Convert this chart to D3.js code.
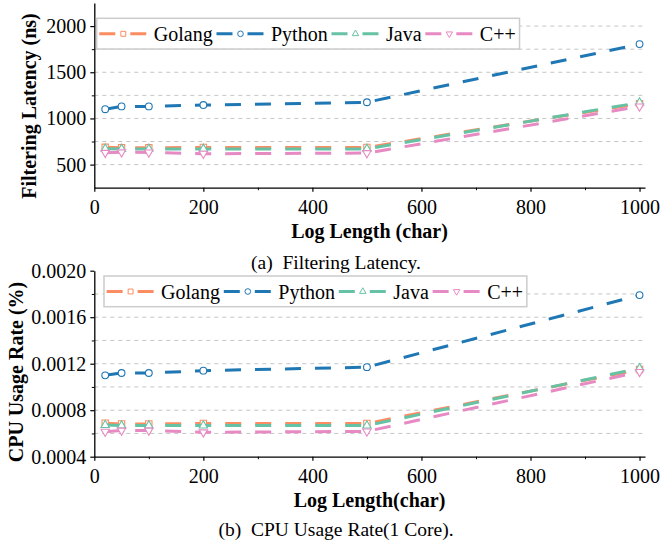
<!DOCTYPE html>
<html>
<head>
<meta charset="utf-8">
<script src="https://cdn.jsdelivr.net/npm/d3@7"></script>
<style>
body { margin: 0; background: #fff; }
text { font-family: "Liberation Serif", "Times New Roman", serif; }
</style>
</head>
<body>
<svg id="chart" width="660" height="546"></svg>
<script>
// log lengths (char) on the x axis
let lengths = [20, 50, 100, 200, 500, 1000];
let languages = ["Golang", "Python", "Java", "C++"];
let colors = ["#fc8d62", "#1f77b4", "#66c2a5", "#e78ac3"];

// (a) filtering latency, ns
let latGolang = [688, 682, 682, 686, 686, 1160];
let latPython = [1100, 1130, 1130, 1145, 1175, 1805];
let latJava = [672, 670, 670, 670, 670, 1172];
let latCpp = [628, 634, 632, 618, 625, 1130];

// (b) cpu usage rate, %
let cpuGolang = [0.000688, 0.000682, 0.000682, 0.000686, 0.000686, 0.00115];
let cpuPython = [0.0011, 0.00112, 0.00112, 0.00114, 0.00117, 0.00179];
let cpuJava = [0.000672, 0.000668, 0.000668, 0.000668, 0.000668, 0.00116];
let cpuCpp = [0.000615, 0.000625, 0.000625, 0.00061, 0.000618, 0.00113];

// tick labels
let xMajor = [0, 200, 400, 600, 800, 1000];
let xMinor = [100, 300, 500, 700, 900];
let latMajor = [500, 1000, 1500, 2000];
let latMinor = [750, 1250, 1750];
let cpuMajor = [0.0004, 0.0008, 0.0012, 0.0016, 0.0020];
let cpuMinor = [0.0006, 0.0010, 0.0014, 0.0018];

const svg = d3.select("#chart");
svg.append("rect").attr("width", 660).attr("height", 546).attr("fill", "#fff");

const shapes = [
    {type: d3.symbolSquare, size: 40, small: 24, rot: 0},
    {type: d3.symbolCircle, size: 36, small: 25, rot: 0},
    {type: d3.symbolTriangle, size: 30, small: 18, rot: 0},
    {type: d3.symbolTriangle, size: 30, small: 18, rot: 180}
];

function panel(cfg) {
    const x = d3.scaleLinear().domain([0, 1010]).range([94.3, 645]);
    const y = d3.scaleLinear().domain(cfg.yDomain).range(cfg.yRange);
    const g = svg.append("g");

    // grid
    g.append("g").selectAll("line")
        .data(cfg.grid)
        .join("line")
        .attr("x1", x.range()[0]).attr("x2", x.range()[1])
        .attr("y1", d => y(d)).attr("y2", d => y(d))
        .attr("stroke", "#c4c4c4")
        .attr("stroke-width", 1)
        .attr("stroke-dasharray", "4,4");

    // minor ticks
    g.append("g")
        .attr("transform", "translate(0," + cfg.yRange[0] + ")")
        .call(d3.axisBottom(x).tickValues(xMinor).tickSize(2.5).tickFormat("").tickSizeOuter(0))
        .call(a => a.select(".domain").remove());
    g.append("g")
        .attr("transform", "translate(" + x.range()[0] + ",0)")
        .call(d3.axisLeft(y).tickValues(cfg.minor).tickSize(2.5).tickFormat("").tickSizeOuter(0))
        .call(a => a.select(".domain").remove());

    // major axes
    const xa = g.append("g")
        .attr("transform", "translate(0," + cfg.yRange[0] + ")")
        .call(d3.axisBottom(x).tickValues(xMajor).tickSize(4).tickPadding(8)
            .tickFormat(d3.format("d")).tickSizeOuter(0));
    const ya = g.append("g")
        .attr("transform", "translate(" + x.range()[0] + ",0)")
        .call(d3.axisLeft(y).tickValues(cfg.major).tickSize(4).tickPadding(4)
            .tickFormat(cfg.fmt).tickSizeOuter(0));
    [xa, ya].forEach(a => {
        a.attr("font-family", null).attr("font-size", null);
        a.selectAll("text").attr("font-size", 20).attr("fill", "#000");
        a.selectAll("line").attr("stroke-width", 1.2);
        a.select(".domain").attr("stroke-width", 1.3);
    });

    // series
    cfg.series.forEach(function (vals, i) {
        const pts = lengths.map((l, j) => [l, vals[j]]);
        const sg = g.append("g");
        sg.append("path")
            .datum(pts)
            .attr("d", d3.line().x(d => x(d[0])).y(d => y(d[1])))
            .attr("fill", "none")
            .attr("stroke", colors[i])
            .attr("stroke-width", 3)
            .attr("stroke-dasharray", "16,14");
        sg.selectAll("path.m")
            .data(pts)
            .join("path")
            .attr("class", "m")
            .attr("d", d3.symbol().type(shapes[i].type).size(shapes[i].size))
            .attr("transform", d => "translate(" + x(d[0]) + "," + y(d[1]) + ") rotate(" + shapes[i].rot + ")")
            .attr("fill", "#fff")
            .attr("stroke", colors[i])
            .attr("stroke-width", 1.1);
    });

    // legend
    const lg = g.append("g");
    const box = lg.append("rect")
        .attr("x", cfg.lx).attr("y", cfg.ly)
        .attr("height", 30.7)
        .attr("fill", "#fff")
        .attr("stroke", "#cccccc")
        .attr("stroke-width", 1.5);
    const cy = cfg.ly + 15.5;
    let cx = cfg.lx + 2.6;
    languages.forEach(function (name, i) {
        lg.append("line")
            .attr("x1", cx).attr("x2", cx + 48)
            .attr("y1", cy).attr("y2", cy)
            .attr("stroke", colors[i])
            .attr("stroke-width", 3)
            .attr("stroke-dasharray", "16,15");
        lg.append("path")
            .attr("d", d3.symbol().type(shapes[i].type).size(shapes[i].small))
            .attr("transform", "translate(" + (cx + 24) + "," + cy + ") rotate(" + shapes[i].rot + ")")
            .attr("fill", "#fff")
            .attr("stroke", colors[i])
            .attr("stroke-width", 1);
        const t = lg.append("text")
            .attr("x", cx + 54.5).attr("y", cy + 7)
            .attr("font-size", 20)
            .text(name);
        cx = cx + 54.5 + t.node().getComputedTextLength() + 3.8;
    });
    box.attr("width", cx - cfg.lx);

    // titles
    g.append("text")
        .attr("x", 369.5).attr("y", cfg.xTitleY)
        .attr("text-anchor", "middle")
        .attr("font-size", 20).attr("font-weight", "bold")
        .text(cfg.xTitle);
    g.append("text")
        .attr("transform", "translate(" + cfg.yTitleX + "," + cfg.yTitleY + ") rotate(-90)")
        .attr("text-anchor", "middle")
        .attr("font-size", 20).attr("font-weight", "bold")
        .text(cfg.yTitle);
    g.append("text")
        .attr("x", 336).attr("y", cfg.captionY)
        .attr("text-anchor", "middle")
        .attr("font-size", 19.5)
        .style("white-space", "pre")
        .text(cfg.caption);
}

panel({
    yDomain: [250, 2250], yRange: [187.7, 3],
    major: latMajor, minor: latMinor,
    grid: [500, 750, 1000, 1250, 1500, 1750, 2000],
    fmt: d3.format("d"),
    series: [latGolang, latPython, latJava, latCpp],
    lx: 96.7, ly: 18.3,
    xTitle: "Log Length (char)", xTitleY: 238,
    yTitle: "Filtering Latency (ns)", yTitleX: 36, yTitleY: 106,
    caption: "(a)\u00a0\u00a0Filtering Latency.", captionY: 269
});

panel({
    yDomain: [0.0004, 0.0020], yRange: [456.7, 270.7],
    major: cpuMajor, minor: cpuMinor,
    grid: [0.0006, 0.0008, 0.0010, 0.0012, 0.0014, 0.0016, 0.0018],
    fmt: d3.format(".4f"),
    series: [cpuGolang, cpuPython, cpuJava, cpuCpp],
    lx: 104, ly: 276,
    xTitle: "Log Length(char)", xTitleY: 507,
    yTitle: "CPU Usage Rate (%)", yTitleX: 23, yTitleY: 372,
    caption: "(b)\u00a0\u00a0CPU Usage Rate(1 Core).", captionY: 536
});
</script>
</body>
</html>
